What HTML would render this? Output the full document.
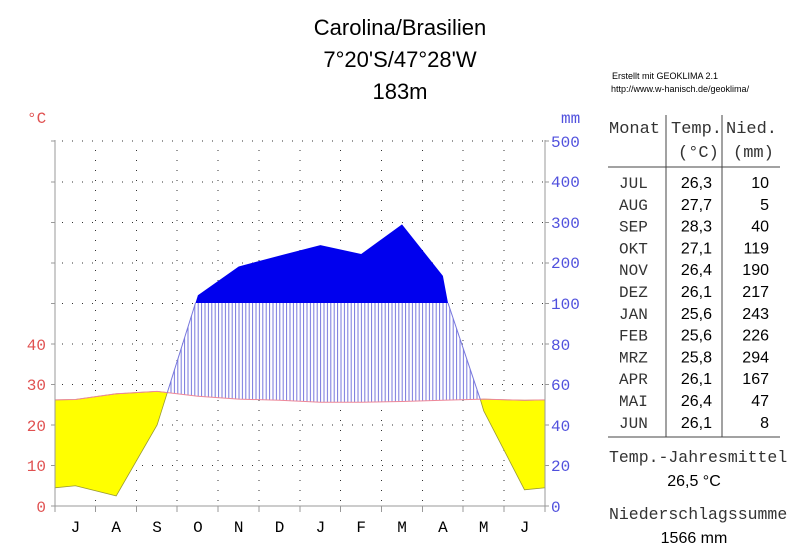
<!DOCTYPE html>
<html><head><meta charset="utf-8"><style>
html,body{margin:0;padding:0;background:#fff;width:800px;height:557px;overflow:hidden}
</style></head><body>
<svg width="800" height="557" viewBox="0 0 800 557" xmlns="http://www.w3.org/2000/svg">
<defs>
<pattern id="h" patternUnits="userSpaceOnUse" width="3.4" height="10">
<rect width="3.4" height="10" fill="#fff"/>
<line x1="1" y1="0" x2="1" y2="10" stroke="#7777dd" stroke-width="1"/>
</pattern>
</defs>
<rect width="800" height="557" fill="#fff"/>
<g font-family="Liberation Sans, sans-serif" font-size="22" text-anchor="middle" fill="#000">
<text x="400" y="35">Carolina/Brasilien</text>
<text x="400" y="67">7°20'S/47°28'W</text>
<text x="400" y="99">183m</text>
</g>
<g stroke="#333" stroke-width="1" stroke-dasharray="1,9">
<line x1="62" y1="465.5" x2="545" y2="465.5"/>
<line x1="62" y1="425" x2="545" y2="425"/>
<line x1="62" y1="384.5" x2="545" y2="384.5"/>
<line x1="62" y1="344" x2="545" y2="344"/>
<line x1="62" y1="303.5" x2="545" y2="303.5"/>
<line x1="62" y1="263" x2="545" y2="263"/>
<line x1="62" y1="222.5" x2="545" y2="222.5"/>
<line x1="62" y1="182" x2="545" y2="182"/>
<line x1="62" y1="141" x2="545" y2="141"/>
</g>
<g stroke="#333" stroke-width="1" stroke-dasharray="1,9">
<line x1="95.5" y1="150" x2="95.5" y2="506"/>
<line x1="136.5" y1="150" x2="136.5" y2="506"/>
<line x1="177" y1="150" x2="177" y2="506"/>
<line x1="218" y1="150" x2="218" y2="506"/>
<line x1="259" y1="150" x2="259" y2="506"/>
<line x1="300" y1="150" x2="300" y2="506"/>
<line x1="340.5" y1="150" x2="340.5" y2="506"/>
<line x1="381.5" y1="150" x2="381.5" y2="506"/>
<line x1="422.5" y1="150" x2="422.5" y2="506"/>
<line x1="463" y1="150" x2="463" y2="506"/>
<line x1="504" y1="150" x2="504" y2="506"/>
</g>
<polygon fill="#ffff00" stroke="#999933" stroke-width="0.8" points="55,399.9 75.4,399.5 116.2,393.8 157.1,391.4 167.3,392.6 157.1,425 116.2,495.9 75.4,485.75 55,487.8"/>
<polygon fill="#ffff00" stroke="#999933" stroke-width="0.8" points="480.3,399.4 483.7,399.1 524.5,400.3 545,399.9 545,487.8 524.5,489.8 483.7,410.8"/>
<polygon fill="url(#h)" points="167.3,392.6 195.5,303 448,303 480.3,399.4 442.9,400.3 402,401.5 361.2,402.3 320.4,402.3 279.6,400.3 238.7,399.1 197.9,396.2"/>
<polygon fill="#0000ee" points="195.5,303 197.9,295.3 238.7,266.5 279.6,255.6 320.4,245.1 361.2,254 402,224.4 442.9,275.9 448,303"/>
<polyline fill="none" stroke="#ee8899" stroke-width="1" points="55,399.9 75.4,399.5 116.2,393.8 157.1,391.4 197.9,396.2 238.7,399.1 279.6,400.3 320.4,402.3 361.2,402.3 402,401.5 442.9,400.3 483.7,399.1 524.5,400.3 545,399.9"/>
<polyline fill="none" stroke="#7777dd" stroke-width="1" points="167.3,392.6 195.5,303"/>
<polyline fill="none" stroke="#7777dd" stroke-width="1" points="448,303 480.3,399.4"/>
<g stroke="#999" stroke-width="1">
<line x1="55" y1="140" x2="55" y2="506"/>
<line x1="545" y1="140" x2="545" y2="506"/>
<line x1="55" y1="506" x2="545" y2="506"/>
<line x1="51" y1="506" x2="55" y2="506"/><line x1="51" y1="465.5" x2="55" y2="465.5"/><line x1="51" y1="425" x2="55" y2="425"/><line x1="51" y1="384.5" x2="55" y2="384.5"/><line x1="51" y1="344" x2="55" y2="344"/><line x1="51" y1="303.5" x2="55" y2="303.5"/><line x1="51" y1="263" x2="55" y2="263"/><line x1="51" y1="222.5" x2="55" y2="222.5"/><line x1="51" y1="182" x2="55" y2="182"/><line x1="51" y1="141" x2="55" y2="141"/>
<line x1="545" y1="506" x2="549" y2="506"/><line x1="545" y1="465.5" x2="549" y2="465.5"/><line x1="545" y1="425" x2="549" y2="425"/><line x1="545" y1="384.5" x2="549" y2="384.5"/><line x1="545" y1="344" x2="549" y2="344"/><line x1="545" y1="303.5" x2="549" y2="303.5"/><line x1="545" y1="263" x2="549" y2="263"/><line x1="545" y1="222.5" x2="549" y2="222.5"/><line x1="545" y1="182" x2="549" y2="182"/><line x1="545" y1="141" x2="549" y2="141"/>
<line x1="55" y1="506" x2="55" y2="512"/><line x1="95.5" y1="506" x2="95.5" y2="512"/><line x1="136.5" y1="506" x2="136.5" y2="512"/><line x1="177" y1="506" x2="177" y2="512"/><line x1="218" y1="506" x2="218" y2="512"/><line x1="259" y1="506" x2="259" y2="512"/><line x1="300" y1="506" x2="300" y2="512"/><line x1="340.5" y1="506" x2="340.5" y2="512"/><line x1="381.5" y1="506" x2="381.5" y2="512"/><line x1="422.5" y1="506" x2="422.5" y2="512"/><line x1="463" y1="506" x2="463" y2="512"/><line x1="504" y1="506" x2="504" y2="512"/><line x1="545" y1="506" x2="545" y2="512"/>
</g>
<g font-family="Liberation Mono, monospace" font-size="16">
<text x="27" y="123" fill="#e05050">°C</text>
<text x="561" y="123" fill="#5050dd">mm</text>
<g fill="#e05050" text-anchor="end">
<text x="46" y="512">0</text><text x="46" y="471">10</text><text x="46" y="431">20</text><text x="46" y="390">30</text><text x="46" y="350">40</text>
</g>
<g fill="#5050dd">
<text x="551" y="512">0</text><text x="551" y="471">20</text><text x="551" y="431">40</text><text x="551" y="390">60</text><text x="551" y="350">80</text><text x="551" y="309">100</text><text x="551" y="268">200</text><text x="551" y="228">300</text><text x="551" y="187">400</text><text x="551" y="147">500</text>
</g>
<g fill="#000" text-anchor="middle">
<text x="75.4" y="532">J</text><text x="116.2" y="532">A</text><text x="157.1" y="532">S</text><text x="197.9" y="532">O</text><text x="238.7" y="532">N</text><text x="279.6" y="532">D</text><text x="320.4" y="532">J</text><text x="361.2" y="532">F</text><text x="402" y="532">M</text><text x="442.9" y="532">A</text><text x="483.7" y="532">M</text><text x="524.5" y="532">J</text>
</g>
</g>
<g font-family="Liberation Sans, sans-serif" font-size="9" fill="#000">
<text x="612" y="79">Erstellt mit GEOKLIMA 2.1</text>
<text x="611" y="92">http://www.w-hanisch.de/geoklima/</text>
</g>
<g stroke="#444" stroke-width="1">
<line x1="666" y1="115" x2="666" y2="437"/>
<line x1="722" y1="115" x2="722" y2="437"/>
<line x1="608" y1="167" x2="780" y2="167"/>
<line x1="608" y1="437" x2="780" y2="437"/>
</g>
<g font-family="Liberation Mono, monospace" font-size="17" fill="#333">
<text x="609" y="133">Monat</text>
<text x="671" y="133">Temp.</text>
<text x="726" y="133">Nied.</text>
<text x="678" y="157">(°C)</text>
<text x="733" y="157">(mm)</text>
</g>
<g font-family="Liberation Mono, monospace" font-size="16" fill="#333">
<text x="619" y="188">JUL</text><text x="619" y="209.8">AUG</text><text x="619" y="231.6">SEP</text><text x="619" y="253.4">OKT</text><text x="619" y="275.2">NOV</text><text x="619" y="297">DEZ</text><text x="619" y="318.8">JAN</text><text x="619" y="340.6">FEB</text><text x="619" y="362.4">MRZ</text><text x="619" y="384.2">APR</text><text x="619" y="406">MAI</text><text x="619" y="427.8">JUN</text>
</g>
<g font-family="Liberation Sans, sans-serif" font-size="16" fill="#000" text-anchor="end">
<text x="712" y="188">26,3</text><text x="712" y="209.8">27,7</text><text x="712" y="231.6">28,3</text><text x="712" y="253.4">27,1</text><text x="712" y="275.2">26,4</text><text x="712" y="297">26,1</text><text x="712" y="318.8">25,6</text><text x="712" y="340.6">25,6</text><text x="712" y="362.4">25,8</text><text x="712" y="384.2">26,1</text><text x="712" y="406">26,4</text><text x="712" y="427.8">26,1</text>
<text x="769" y="188">10</text><text x="769" y="209.8">5</text><text x="769" y="231.6">40</text><text x="769" y="253.4">119</text><text x="769" y="275.2">190</text><text x="769" y="297">217</text><text x="769" y="318.8">243</text><text x="769" y="340.6">226</text><text x="769" y="362.4">294</text><text x="769" y="384.2">167</text><text x="769" y="406">47</text><text x="769" y="427.8">8</text>
</g>
<g font-family="Liberation Mono, monospace" font-size="16.5" fill="#333">
<text x="609" y="462">Temp.-Jahresmittel</text>
<text x="609" y="519">Niederschlagssumme</text>
</g>
<g font-family="Liberation Sans, sans-serif" font-size="16" fill="#000" text-anchor="middle">
<text x="694" y="486">26,5 °C</text>
<text x="694" y="543">1566 mm</text>
</g>
</svg>
</body></html>
